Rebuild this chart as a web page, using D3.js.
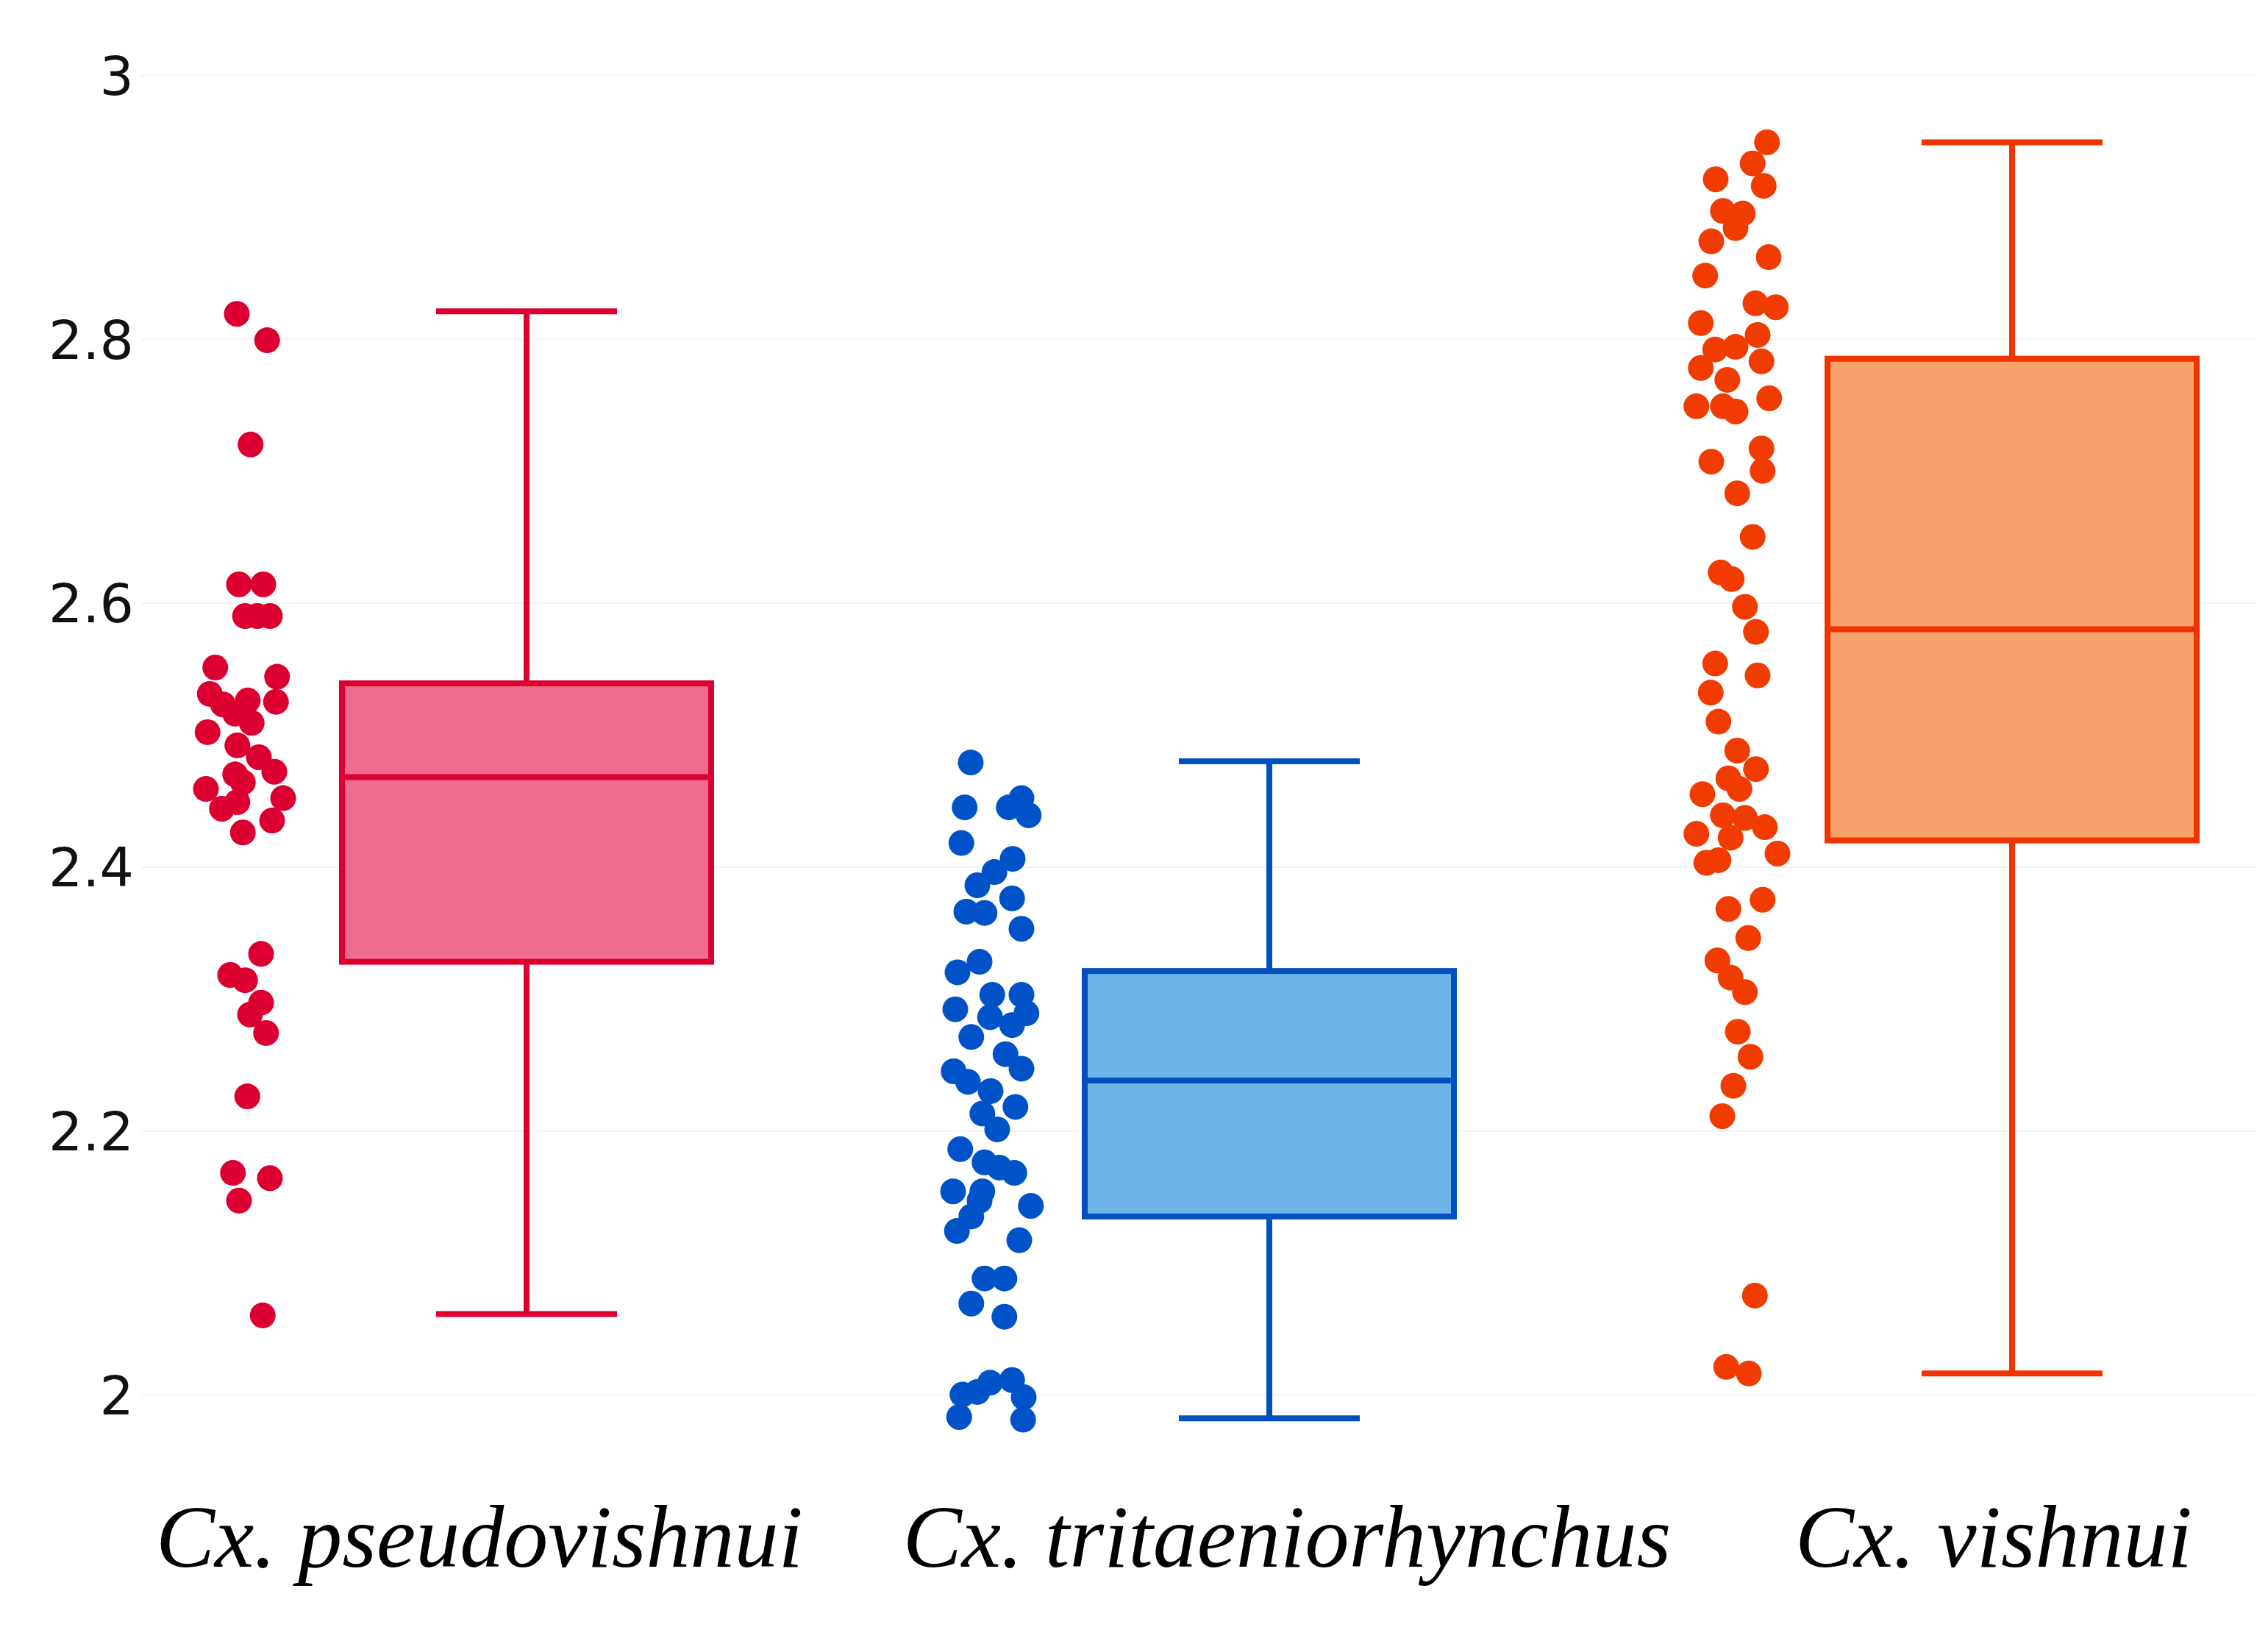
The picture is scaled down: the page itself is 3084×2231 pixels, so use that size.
<!DOCTYPE html>
<html><head><meta charset="utf-8">
<script src="https://cdn.jsdelivr.net/npm/d3@7"></script>
<style>html,body{margin:0;padding:0;background:#fff;} svg{display:block;}</style>
</head><body>
<script>
// ---------- data ----------
const categories = ["Cx. pseudovishnui", "Cx. tritaeniorhynchus", "Cx. vishnui"];
const tickValues = [2, 2.2, 2.4, 2.6, 2.8, 3];
const tickLabels = ["2", "2.2", "2.4", "2.6", "2.8", "3"];

// box statistics: [lower whisker, Q1, median, Q3, upper whisker]
const boxPseudo = [2.061, 2.328, 2.468, 2.539, 2.821];
const boxTrit   = [1.982, 2.135, 2.238, 2.321, 2.480];
const boxVish   = [2.016, 2.420, 2.580, 2.785, 2.949];

// individual observations and their horizontal jitter (fraction of jitter width)
const pseudoValues = [2.819,2.799,2.720,2.614,2.614,2.590,2.590,2.590,2.551,2.544,2.531,2.523,2.526,2.516,2.509,2.525,2.502,2.492,2.483,2.472,2.470,2.459,2.464,2.452,2.444,2.449,2.435,2.426,2.334,2.318,2.314,2.297,2.288,2.274,2.226,2.168,2.164,2.147,2.060];
const pseudoJitter = [-0.24,0.31,0.01,-0.20,0.24,-0.09,0.13,0.36,-0.63,0.49,-0.73,-0.49,-0.04,-0.27,0.03,0.47,-0.77,-0.23,0.16,0.44,-0.27,-0.80,-0.13,0.60,-0.51,-0.23,0.40,-0.13,0.20,-0.36,-0.09,0.20,0.00,0.29,-0.05,-0.31,0.36,-0.20,0.23];

const tritValues = [2.479,2.445,2.445,2.452,2.439,2.418,2.406,2.396,2.386,2.376,2.366,2.365,2.353,2.328,2.320,2.303,2.303,2.289,2.292,2.286,2.271,2.280,2.258,2.247,2.245,2.237,2.230,2.218,2.213,2.201,2.186,2.176,2.168,2.172,2.154,2.154,2.147,2.135,2.124,2.143,2.117,2.088,2.088,2.069,2.059,1.983,2.000,2.009,2.011,1.998,1.981,2.002];
const tritJitter = [-0.40,-0.51,0.29,0.52,0.65,-0.57,0.36,0.03,-0.28,0.35,-0.48,-0.15,0.52,-0.24,-0.64,-0.01,0.52,0.61,-0.68,-0.05,-0.39,0.35,0.23,0.52,-0.71,-0.45,-0.04,0.41,-0.19,0.08,-0.59,-0.15,0.39,0.12,-0.72,-0.19,-0.24,-0.39,-0.65,0.69,0.48,-0.15,0.21,-0.39,0.21,-0.61,-0.55,-0.05,0.35,0.56,0.55,-0.28];

const vishValues = [2.949,2.933,2.921,2.916,2.897,2.895,2.884,2.874,2.862,2.848,2.827,2.824,2.812,2.803,2.792,2.794,2.778,2.783,2.769,2.749,2.749,2.745,2.755,2.717,2.700,2.707,2.683,2.650,2.623,2.618,2.597,2.578,2.554,2.532,2.545,2.510,2.488,2.474,2.467,2.459,2.455,2.425,2.439,2.437,2.430,2.403,2.405,2.422,2.410,2.368,2.375,2.346,2.329,2.316,2.305,2.275,2.256,2.234,2.211,2.075,2.021,2.016];
const vishJitter = [0.57,0.31,-0.36,0.51,-0.23,0.13,0.00,-0.44,0.60,-0.55,0.36,0.73,-0.63,0.40,-0.37,0.00,-0.63,0.47,-0.15,-0.71,-0.23,0.00,0.61,0.47,0.49,-0.44,0.03,0.31,-0.27,-0.07,0.17,0.37,-0.37,-0.45,0.40,-0.31,0.03,0.37,-0.13,0.07,-0.60,-0.71,-0.23,0.17,0.53,-0.53,-0.31,-0.09,0.76,-0.13,0.49,0.23,-0.33,-0.09,0.17,0.04,0.27,-0.04,-0.24,0.35,-0.17,0.24];

// ---------- styles ----------
const series = [
  {name: categories[0], box: boxPseudo, values: pseudoValues, jitter: pseudoJitter, point: "#dc0030", line: "#dc0030", fill: "#ef6b8f"},
  {name: categories[1], box: boxTrit,   values: tritValues,   jitter: tritJitter,   point: "#0052c8", line: "#0050c0", fill: "#6cb4ea"},
  {name: categories[2], box: boxVish,   values: vishValues,   jitter: vishJitter,   point: "#f03c00", line: "#f03400", fill: "#f7a16c"}
];

const W = 3084, H = 2231;
const gridLeft = 192, plotRight = 3068;
const boxWidth = 502, capWidth = 246, pointOffset = -376, jitterHalf = 75, pointR = 17.5;
const lineW = 8;
const labelShift = [-64, 24, -25];

const svg = d3.select("body").append("svg").attr("width", W).attr("height", H)
  .style("background", "#fff");

const y = d3.scaleLinear().domain([2, 3]).range([1896, 102]);
const x = d3.scalePoint().domain(categories).range([716, 2736]);

// grid + tick labels
const yAxis = d3.axisLeft(y).tickValues(tickValues)
  .tickFormat((d, i) => tickLabels[i])
  .tickSize(-(plotRight - gridLeft)).tickPadding(10);
const gAxis = svg.append("g").attr("transform", `translate(${gridLeft},0)`).call(yAxis);
gAxis.select(".domain").remove();
gAxis.selectAll(".tick line").attr("stroke", "#f3f3f3").attr("stroke-width", 2);
gAxis.selectAll(".tick text").attr("fill", "#111")
  .style("font-family", "'DejaVu Sans', Verdana, sans-serif").style("font-size", "73px")
  .attr("dy", "0.36em");

// boxes
const gBox = svg.append("g");
series.forEach(s => {
  const cx = x(s.name);
  const [lo, q1, med, q3, hi] = s.box;
  const g = gBox.append("g").attr("stroke", s.line).attr("stroke-width", lineW);
  g.append("line").attr("x1", cx).attr("x2", cx).attr("y1", y(q3)).attr("y2", y(hi));
  g.append("line").attr("x1", cx).attr("x2", cx).attr("y1", y(q1)).attr("y2", y(lo));
  g.append("line").attr("x1", cx - capWidth / 2).attr("x2", cx + capWidth / 2).attr("y1", y(hi)).attr("y2", y(hi));
  g.append("line").attr("x1", cx - capWidth / 2).attr("x2", cx + capWidth / 2).attr("y1", y(lo)).attr("y2", y(lo));
  g.append("rect").attr("x", cx - boxWidth / 2).attr("width", boxWidth)
    .attr("y", y(q3)).attr("height", y(q1) - y(q3))
    .attr("fill", s.fill);
  g.append("line").attr("x1", cx - boxWidth / 2).attr("x2", cx + boxWidth / 2).attr("y1", y(med)).attr("y2", y(med));
});

// points
const gPts = svg.append("g");
series.forEach(s => {
  const pc = x(s.name) + pointOffset;
  gPts.append("g").selectAll("circle").data(s.values.map((v, i) => ({v, j: s.jitter[i]})))
    .join("circle")
    .attr("cx", d => pc + d.j * jitterHalf)
    .attr("cy", d => y(d.v))
    .attr("r", pointR)
    .attr("fill", s.point);
});

// category labels
svg.append("g").selectAll("text").data(categories).join("text")
  .attr("x", (d, i) => x(d) + labelShift[i])
  .attr("y", 2130)
  .attr("text-anchor", "middle")
  .style("font-family", "'Liberation Serif', 'Times New Roman', serif")
  .style("font-style", "italic")
  .style("font-size", "120px")
  .attr("fill", "#000")
  .text(d => d);
</script>
</body></html>
